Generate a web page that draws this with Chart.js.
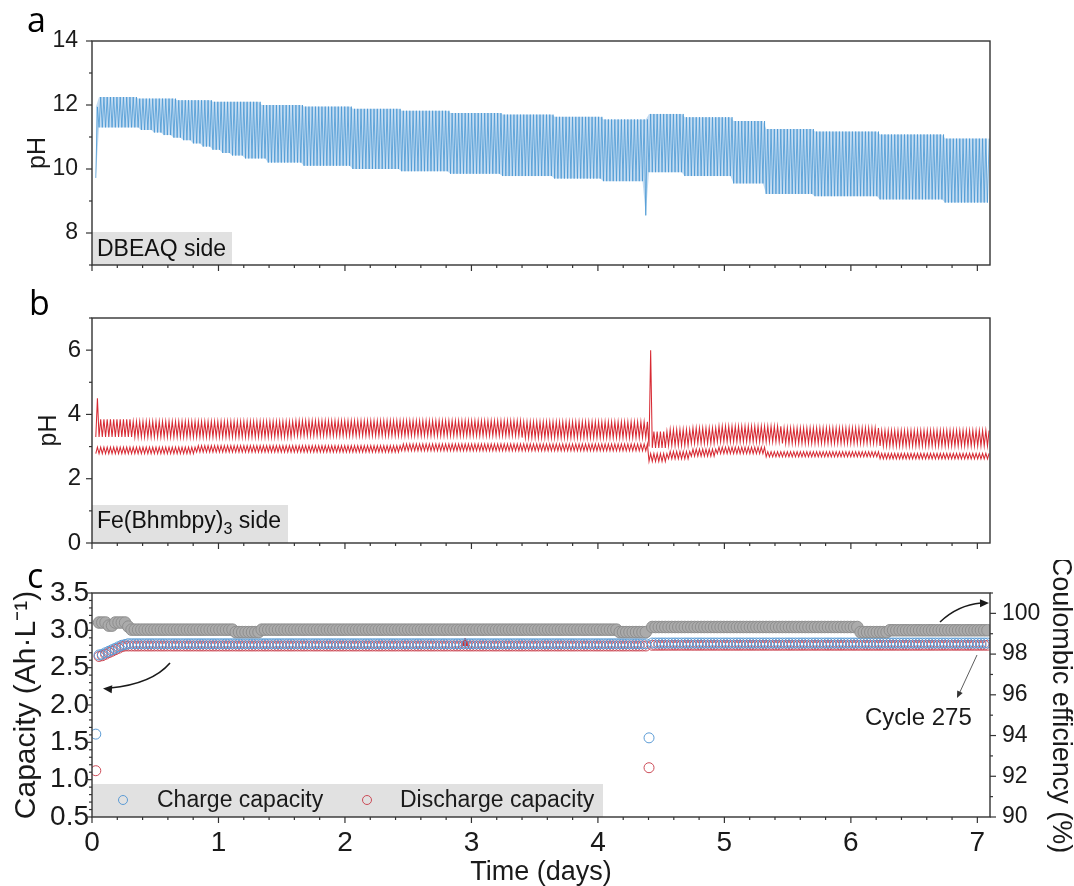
<!DOCTYPE html>
<html><head><meta charset="utf-8">
<script src="https://cdn.jsdelivr.net/npm/chart.js@4.4.1/dist/chart.umd.min.js"></script>
<style>
html,body{margin:0;padding:0;background:#fff;}
#wrap{position:relative;width:1074px;height:886px;overflow:hidden;background:#fff;}
canvas{position:absolute;left:0;}
</style></head><body>
<div id="wrap">
<canvas id="cA" width="1074" height="294" style="top:0px;width:1074px;height:294px"></canvas>
<canvas id="cB" width="1074" height="292" style="top:280px;width:1074px;height:292px"></canvas>
<canvas id="cC" width="1074" height="326" style="top:560px;width:1074px;height:326px"></canvas>
</div>
<script>
// ---------------- data ----------------
// cycling: 275 charge/discharge cycles of equal length
const N_CYCLES = 275;
const FIRST_CYCLE_DAY = 0.03;
const CYCLE_LENGTH_DAY = 0.02573;

// tick labels
const dayTicks = [0, 1, 2, 3, 4, 5, 6, 7];
const phATicks = [8, 10, 12, 14];
const phBTicks = [0, 2, 4, 6];
const capTicks = [0.5, 1.0, 1.5, 2.0, 2.5, 3.0, 3.5];
const ceTicks = [90, 92, 94, 96, 98, 100];

// per-cycle values, written as [value, number of consecutive cycles]
// (a) DBEAQ side pH: cycle maximum / minimum
const phA_high = [[11.94,1],[12.25,12],[12.2,12],[12.15,11],[12.1,15],[12.0,13],[11.95,15],[11.88,15],[11.82,15],[11.75,16],[11.7,16],[11.63,15],[11.55,14],[11.72,11],[11.62,15],[11.5,10],[11.25,15],[11.17,20],[11.08,20],[10.95,14]];
const phA_low  = [[9.72,1],[11.3,13],[11.22,4],[11.14,3],[11.06,3],[10.98,3],[10.9,3],[10.8,3],[10.7,3],[10.6,3],[10.5,3],[10.42,4],[10.33,7],[10.2,11],[10.1,15],[10.0,15],[9.93,15],[9.85,16],[9.78,16],[9.7,15],[9.62,13],[8.55,1],[9.9,11],[9.78,15],[9.55,10],[9.22,15],[9.15,20],[9.05,20],[8.95,14]];
// (b) Fe(Bhmbpy)3 side pH: upper band max/min and lower band max/min
const phB_upperHigh = [[4.5,1],[3.85,10],[3.78,50],[3.8,70],[3.77,39],[6.0,1],[3.47,5],[3.53,7],[3.58,8],[3.63,20],[3.58,30],[3.5,34]];
const phB_upperLow  = [[3.3,61],[3.34,70],[3.28,39],[3.0,1],[2.96,5],[3.03,7],[3.1,8],[3.15,20],[3.1,30],[3.02,34]];
const phB_lowerHigh = [[2.98,31],[3.03,63],[3.08,76],[2.78,6],[2.85,7],[2.92,8],[2.98,15],[2.84,35],[2.79,34]];
const phB_lowerLow  = [[2.78,31],[2.83,63],[2.87,76],[2.54,6],[2.62,7],[2.7,8],[2.78,15],[2.68,35],[2.62,34]];
// (c) capacities (Ah/L) and coulombic efficiency (%)
const chargeCapacity    = [[1.61,1],[2.67,1],[2.68,1],[2.7,1],[2.72,1],[2.74,1],[2.76,1],[2.78,1],[2.8,1],[2.81,1],[2.82,160],[1.56,1],[2.83,104]];
const dischargeCapacity = [[1.12,1],[2.65,1],[2.66,1],[2.68,1],[2.7,1],[2.72,1],[2.74,1],[2.76,1],[2.78,1],[2.79,161],[1.16,1],[2.8,104]];
const coulombicEff      = [[null,1],[99.55,3],[99.4,2],[99.55,4],[99.35,1],[99.2,32],[99.08,8],[99.2,110],[99.08,9],[null,1],[99.33,64],[99.08,9],[99.17,31]];
const markerDay = [2.95];
const markerCap = [2.83];

// ---------------- helpers ----------------
function expand(runs){ const out=[]; for(const [v,n] of runs){ for(let i=0;i<n;i++) out.push(v); } return out; }
function cycleDay(k){ return FIRST_CYCLE_DAY + k*CYCLE_LENGTH_DAY; }
function zigzag(lowRuns, highRuns){
  const lo=expand(lowRuns), hi=expand(highRuns), pts=[];
  for(let k=0;k<lo.length;k++){
    const t=cycleDay(k);
    pts.push({x:t,y:lo[k]},{x:t+CYCLE_LENGTH_DAY/2,y:hi[k]});
  }
  return pts;
}
function pointsOf(runs){ return expand(runs).map((v,k)=>({x:cycleDay(k),y:v})); }

const FONT = "'Liberation Sans', Arial, sans-serif";
Chart.defaults.font.family = FONT;
Chart.defaults.color = '#1a1a1a';
Chart.defaults.animation = false;

const X_MIN = 0, X_MAX = 7.1;

function decorPlugin(spec){
  return {
    id:'decor_'+spec.name,
    afterDatasetsDraw(chart){
      const ctx=chart.ctx, ca=chart.chartArea;
      ctx.save();
      if(spec.extra) spec.extra(ctx, chart);
      ctx.strokeStyle='#333'; ctx.lineWidth=1.4;
      ctx.strokeRect(ca.left, ca.top, ca.right-ca.left, ca.bottom-ca.top);
      ctx.lineWidth=1.2;
      for(const t of spec.ticks){
        const s=chart.scales[t.id];
        const draw=(v,len)=>{
          const p=s.getPixelForValue(v);
          ctx.beginPath();
          if(t.side==='bottom'){ctx.moveTo(p,ca.bottom);ctx.lineTo(p,ca.bottom+len);}
          else if(t.side==='left'){ctx.moveTo(ca.left,p);ctx.lineTo(ca.left-len,p);}
          else {ctx.moveTo(ca.right,p);ctx.lineTo(ca.right+len,p);}
          ctx.stroke();
        };
        t.major.forEach(v=>draw(v,6));
        for(let v=t.from; v<=t.to+1e-9; v+=t.minorStep){
          const r=Math.round(v*1000)/1000;
          if(!t.major.some(m=>Math.abs(m-r)<1e-6)) draw(r,3);
        }
      }
      ctx.restore();
    }
  };
}

function xAxis(height, showLabels){
  return {
    type:'linear', min:X_MIN, max:X_MAX,
    afterBuildTicks:s=>{ s.ticks=dayTicks.map(v=>({value:v})); },
    afterFit:s=>{ s.height=height; },
    grid:{display:false, drawTicks:false}, border:{display:false},
    ticks:{display:showLabels, font:{size:28}, padding:9, maxRotation:0, autoSkip:false},
    title: showLabels ? {display:true, text:'Time (days)', font:{size:27, lineHeight:1}, padding:{top:0,bottom:0}} : {display:false}
  };
}

const baseOpts = {
  responsive:false, animation:false, events:[],
  plugins:{legend:{display:false}, tooltip:{enabled:false}, filler:{propagate:false}},
};

// ---------------- chart a ----------------
new Chart(document.getElementById('cA'), {
  type:'scatter',
  data:{datasets:[
    {data: zigzag(phA_low, phA_high), showLine:true, pointRadius:0,
     borderColor:'rgba(70,150,210,0.85)', borderWidth:0.9, tension:0, fill:false},
    {data: pointsOf(phA_high), showLine:true, pointRadius:0, borderWidth:0, borderColor:'rgba(0,0,0,0)',
     fill:'+1', backgroundColor:'rgba(115,172,224,0.42)'},
    {data: pointsOf(phA_low), showLine:true, pointRadius:0, borderWidth:0, borderColor:'rgba(0,0,0,0)', fill:false}
  ]},
  options:Object.assign({}, baseOpts, {
    layout:{padding:{top:41,right:84,left:0,bottom:0}, autoPadding:false},
    scales:{
      x: xAxis(29,false),
      y:{type:'linear', min:7, max:14,
        afterBuildTicks:s=>{ s.ticks=phATicks.map(v=>({value:v})); },
        afterFit:s=>{ s.width=92; },
        grid:{display:false, drawTicks:false}, border:{display:false},
        ticks:{font:{size:23}, padding:14},
        title:{display:true, text:'pH', font:{size:25, lineHeight:1}, padding:{top:26,bottom:0}}
      }
    }
  }),
  plugins:[decorPlugin({name:'a',
    ticks:[{id:'x',side:'bottom',major:dayTicks,from:0,to:7.1,minorStep:0.2},
           {id:'y',side:'left',major:phATicks,from:7,to:14,minorStep:1}],
    extra(ctx){
      ctx.fillStyle='#000'; ctx.font="34px 'Open Sans', sans-serif"; ctx.textBaseline='alphabetic';
      ctx.fillText('a',27,32);
      ctx.fillStyle='#e1e1e1'; ctx.fillRect(92,232,140,33);
      ctx.fillStyle='#111'; ctx.font="23px "+FONT; ctx.textBaseline='middle';
      ctx.fillText('DBEAQ side',97,250);
    }})]
});

// ---------------- chart b ----------------
new Chart(document.getElementById('cB'), {
  type:'scatter',
  data:{datasets:[
    {data: zigzag(phB_upperLow, phB_upperHigh), showLine:true, pointRadius:0,
     borderColor:'rgba(212,24,34,0.92)', borderWidth:1.05, tension:0},
    {data: zigzag(phB_lowerLow, phB_lowerHigh), showLine:true, pointRadius:0,
     borderColor:'rgba(212,24,34,0.92)', borderWidth:1.05, tension:0}
  ]},
  options:Object.assign({}, baseOpts, {
    layout:{padding:{top:38,right:84,left:0,bottom:0}, autoPadding:false},
    scales:{
      x: xAxis(29,false),
      y:{type:'linear', min:0, max:7,
        afterBuildTicks:s=>{ s.ticks=phBTicks.map(v=>({value:v})); },
        afterFit:s=>{ s.width=92; },
        grid:{display:false, drawTicks:false}, border:{display:false},
        ticks:{font:{size:24}, padding:11},
        title:{display:true, text:'pH', font:{size:25, lineHeight:1}, padding:{top:37,bottom:0}}
      }
    }
  }),
  plugins:[decorPlugin({name:'b',
    ticks:[{id:'x',side:'bottom',major:dayTicks,from:0,to:7.1,minorStep:0.2},
           {id:'y',side:'left',major:phBTicks,from:0,to:7,minorStep:1}],
    extra(ctx){
      ctx.fillStyle='#000'; ctx.font="34px 'Open Sans', sans-serif"; ctx.textBaseline='alphabetic';
      ctx.fillText('b',29,35);
      ctx.fillStyle='#e1e1e1'; ctx.fillRect(92,225,196,38);
      ctx.fillStyle='#111'; ctx.font="23px "+FONT; ctx.textBaseline='middle';
      let x=97; const y=242;
      ctx.fillText('Fe(Bhmbpy)',x,y); x+=ctx.measureText('Fe(Bhmbpy)').width;
      ctx.font="16px "+FONT; ctx.fillText('3',x,y+8); x+=ctx.measureText('3').width;
      ctx.font="23px "+FONT; ctx.fillText(' side',x,y);
    }})]
});

// ---------------- chart c ----------------
function arrowHead(ctx,x,y,ang,len,wid){
  ctx.beginPath();
  ctx.moveTo(x,y);
  ctx.lineTo(x-len*Math.cos(ang)+wid*Math.sin(ang), y-len*Math.sin(ang)-wid*Math.cos(ang));
  ctx.lineTo(x-len*Math.cos(ang)-wid*Math.sin(ang), y-len*Math.sin(ang)+wid*Math.cos(ang));
  ctx.closePath(); ctx.fill();
}
new Chart(document.getElementById('cC'), {
  type:'scatter',
  data:{datasets:[
    {data: pointsOf(coulombicEff), yAxisID:'y2', pointRadius:5.8, pointBorderWidth:1,
     pointBackgroundColor:'#ababab', pointBorderColor:'#8e8e8e', showLine:false},
    {data: pointsOf(chargeCapacity), yAxisID:'y', pointRadius:5, pointBorderWidth:1,
     pointBackgroundColor:'rgba(0,0,0,0)', pointBorderColor:'#5b9bd5', showLine:false},
    {data: pointsOf(dischargeCapacity), yAxisID:'y', pointRadius:5, pointBorderWidth:1,
     pointBackgroundColor:'rgba(0,0,0,0)', pointBorderColor:'#cc4b57', showLine:false},
    {data: markerDay.map((d,i)=>({x:d,y:markerCap[i]})), yAxisID:'y', pointStyle:'triangle', pointRadius:5,
     pointBackgroundColor:'#d42a2a', pointBorderColor:'#d42a2a', showLine:false}
  ]},
  options:Object.assign({}, baseOpts, {
    layout:{padding:{top:33,right:0,left:0,bottom:0}, autoPadding:false},
    scales:{
      x: xAxis(69,true),
      y:{type:'linear', position:'left', min:0.5, max:3.5,
        afterBuildTicks:s=>{ s.ticks=capTicks.map(v=>({value:v})); },
        afterFit:s=>{ s.width=92; },
        grid:{display:false, drawTicks:false}, border:{display:false},
        ticks:{font:{size:28}, padding:3, callback:v=>v.toFixed(1)},
        title:{display:true, text:'Capacity (Ah·L⁻¹)', font:{size:30, lineHeight:1}, padding:{top:12,bottom:0}}
      },
      y2:{type:'linear', position:'right', min:90, max:101,
        afterBuildTicks:s=>{ s.ticks=ceTicks.map(v=>({value:v})); },
        afterFit:s=>{ s.width=84; },
        grid:{display:false, drawTicks:false}, border:{display:false},
        ticks:{font:{size:23}, padding:12},
        title:{display:true, text:'Coulombic efficiency (%)', font:{size:27, lineHeight:1}, padding:{top:0,bottom:0}}
      }
    }
  }),
  plugins:[decorPlugin({name:'c',
    ticks:[{id:'x',side:'bottom',major:dayTicks,from:0,to:7.1,minorStep:0.2},
           {id:'y',side:'left',major:capTicks,from:0.5,to:3.5,minorStep:0.1},
           {id:'y2',side:'right',major:ceTicks,from:90,to:101,minorStep:1}],
    extra(ctx){
      ctx.fillStyle='#000'; ctx.font="34px 'Open Sans', sans-serif"; ctx.textBaseline='alphabetic';
      ctx.fillText('c',27,28);
      // legend box
      ctx.fillStyle='#e1e1e1'; ctx.fillRect(92,224,511,33);
      ctx.lineWidth=1;
      ctx.strokeStyle='#5b9bd5'; ctx.beginPath(); ctx.arc(123,240,4.5,0,2*Math.PI); ctx.stroke();
      ctx.strokeStyle='#cc4b57'; ctx.beginPath(); ctx.arc(367,240,4.5,0,2*Math.PI); ctx.stroke();
      ctx.fillStyle='#1a1a1a'; ctx.font="23px "+FONT; ctx.textBaseline='middle';
      ctx.fillText('Charge capacity',157,241);
      ctx.fillText('Discharge capacity',400,241);
      // arrows
      ctx.strokeStyle='#1a1a1a'; ctx.fillStyle='#1a1a1a'; ctx.lineWidth=1.6;
      ctx.beginPath(); ctx.moveTo(170,103); ctx.quadraticCurveTo(152,124,110,128); ctx.stroke();
      arrowHead(ctx,103,128.5,Math.PI+0.08,9,4);
      ctx.beginPath(); ctx.moveTo(940,62); ctx.quadraticCurveTo(958,45,981,43); ctx.stroke();
      arrowHead(ctx,989,43,-0.02,9,4);
      ctx.lineWidth=0.8; ctx.strokeStyle='#333'; ctx.fillStyle='#333';
      ctx.beginPath(); ctx.moveTo(977,95); ctx.lineTo(959,134); ctx.stroke();
      arrowHead(ctx,957,138,Math.atan2(43,-20),7,3);
      ctx.fillStyle='#1a1a1a'; ctx.font="24px "+FONT; ctx.textBaseline='middle';
      ctx.fillText('Cycle 275',865,158);
    }})]
});
</script>
</body></html>
